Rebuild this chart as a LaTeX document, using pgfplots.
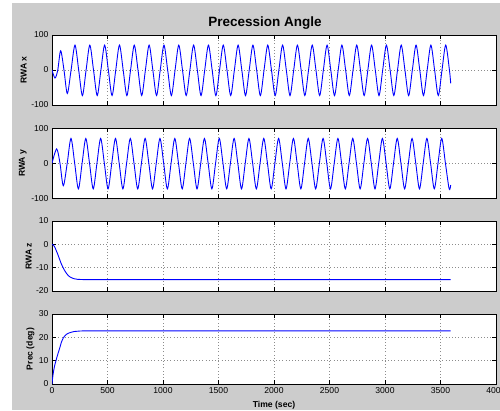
\documentclass[border=0pt]{standalone}
\usepackage{fontspec}
\setmainfont{Liberation Sans}
\usepackage{pgfplots}
\pgfplotsset{compat=1.18}
\definecolor{figgray}{RGB}{204,204,204}

\pgfplotsset{
  matpanel/.style={
    scale only axis,
    width=444pt, height=70pt,
    xmin=0, xmax=4000,
    xtick={0,500,...,4000},
    tick align=inside,
    tick pos=both,
    major tick length=4pt,
    axis line style={black, line width=0.8pt},
    tick style={black, line width=0.6pt},
    axis background/.style={fill=white},
    grid=major,
    major grid style={black!45, line width=0.5pt, dash pattern=on 0.7pt off 2.5pt},
    /pgf/number format/assume math mode=true,
    /pgf/number format/1000 sep={},
    tick label style={font=\fontsize{8.6}{10}\selectfont},
    ylabel style={font=\bfseries\fontsize{8.6}{10}\selectfont, inner sep=1pt},
    anchor=north west,
  },
  matline/.style={blue, line width=0.9pt, mark=none},
}

\begin{document}
\begin{tikzpicture}
\fill[figgray] (12.3pt,0pt) rectangle (500pt,406.7pt);
\path[use as bounding box] (0pt,0pt) rectangle (500pt,410pt);

% RWA x
\begin{axis}[matpanel, at={(52pt,375pt)},
  ymin=-100, ymax=100, ytick={-100,0,100},
  xticklabels={},
  ylabel={RWA x},
  title={Precession Angle},
  title style={font=\bfseries\fontsize{13.5}{15}\selectfont, at={(0.5,1)}, anchor=base, yshift=2.7pt, xshift=-9pt}]
\addplot[matline, smooth] coordinates {
(0,0) (27,-23) (52,0) (78,55) (108,0) (138,-67) (172,0)
(207.0,71) (240.4,0) (273.8,-73) (307.2,0)
(340.6,71) (374.0,0) (407.4,-73) (440.8,0)
(474.2,71) (507.6,0) (541.0,-73) (574.4,0)
(607.8,71) (641.2,0) (674.6,-73) (708.0,0)
(741.4,71) (774.8,0) (808.2,-73) (841.6,0)
(875.0,71) (908.4,0) (941.8,-73) (975.2,0)
(1008.6,71) (1042.0,0) (1075.4,-73) (1108.8,0)
(1142.2,71) (1175.6,0) (1209.0,-73) (1242.4,0)
(1275.8,71) (1309.2,0) (1342.6,-73) (1376.0,0)
(1409.4,71) (1442.8,0) (1476.2,-73) (1509.6,0)
(1543.0,71) (1576.4,0) (1609.8,-73) (1643.2,0)
(1676.6,71) (1710.0,0) (1743.4,-73) (1776.8,0)
(1810.2,71) (1843.6,0) (1877.0,-73) (1910.4,0)
(1943.8,71) (1977.2,0) (2010.6,-73) (2044.0,0)
(2077.4,71) (2110.8,0) (2144.2,-73) (2177.6,0)
(2211.0,71) (2244.4,0) (2277.8,-73) (2311.2,0)
(2344.6,71) (2378.0,0) (2411.4,-73) (2444.8,0)
(2478.2,71) (2511.6,0) (2545.0,-73) (2578.4,0)
(2611.8,71) (2645.2,0) (2678.6,-73) (2712.0,0)
(2745.4,71) (2778.8,0) (2812.2,-73) (2845.6,0)
(2879.0,71) (2912.4,0) (2945.8,-73) (2979.2,0)
(3012.6,71) (3046.0,0) (3079.4,-73) (3112.8,0)
(3146.2,71) (3179.6,0) (3213.0,-73) (3246.4,0)
(3279.8,71) (3313.2,0) (3346.6,-73) (3380.0,0)
(3413.4,71) (3446.8,0) (3480.2,-73) (3513.6,0)
(3547.0,71) (3580.4,0) (3592,-38)
};
\end{axis}

% RWA y
\begin{axis}[matpanel, at={(52pt,281.7pt)},
  ymin=-100, ymax=100, ytick={-100,0,100},
  xticklabels={},
  ylabel={RWA y}]
\addplot[matline, smooth] coordinates {
(0,0) (42,41) (72,0) (102,-64) (137,0)
(171.0,71) (204.4,0) (237.8,-73) (271.2,0)
(304.6,71) (338.0,0) (371.4,-73) (404.8,0)
(438.2,71) (471.6,0) (505.0,-73) (538.4,0)
(571.8,71) (605.2,0) (638.6,-73) (672.0,0)
(705.4,71) (738.8,0) (772.2,-73) (805.6,0)
(839.0,71) (872.4,0) (905.8,-73) (939.2,0)
(972.6,71) (1006.0,0) (1039.4,-73) (1072.8,0)
(1106.2,71) (1139.6,0) (1173.0,-73) (1206.4,0)
(1239.8,71) (1273.2,0) (1306.6,-73) (1340.0,0)
(1373.4,71) (1406.8,0) (1440.2,-73) (1473.6,0)
(1507.0,71) (1540.4,0) (1573.8,-73) (1607.2,0)
(1640.6,71) (1674.0,0) (1707.4,-73) (1740.8,0)
(1774.2,71) (1807.6,0) (1841.0,-73) (1874.4,0)
(1907.8,71) (1941.2,0) (1974.6,-73) (2008.0,0)
(2041.4,71) (2074.8,0) (2108.2,-73) (2141.6,0)
(2175.0,71) (2208.4,0) (2241.8,-73) (2275.2,0)
(2308.6,71) (2342.0,0) (2375.4,-73) (2408.8,0)
(2442.2,71) (2475.6,0) (2509.0,-73) (2542.4,0)
(2575.8,71) (2609.2,0) (2642.6,-73) (2676.0,0)
(2709.4,71) (2742.8,0) (2776.2,-73) (2809.6,0)
(2843.0,71) (2876.4,0) (2909.8,-73) (2943.2,0)
(2976.6,71) (3010.0,0) (3043.4,-73) (3076.8,0)
(3110.2,71) (3143.6,0) (3177.0,-73) (3210.4,0)
(3243.8,71) (3277.2,0) (3310.6,-73) (3344.0,0)
(3377.4,71) (3410.8,0) (3444.2,-73) (3477.6,0)
(3511.0,71) (3544.4,0) (3577.8,-73) (3592,-62)
};
\end{axis}

% RWA z
\begin{axis}[matpanel, at={(52pt,189pt)},
  ymin=-20, ymax=10, ytick={-20,-10,0,10},
  xticklabels={},
  ylabel={RWA z}]
\addplot[matline] coordinates {
(0,0) (10,-0.2) (20,-0.8) (30,-1.7) (40,-2.9) (50,-4.0) (60,-5.3)
(70,-6.6) (80,-7.9) (90,-9.0) (100,-10.0) (110,-10.9) (120,-11.7)
(130,-12.4) (140,-13.0) (150,-13.5) (160,-13.9) (180,-14.4)
(200,-14.75) (230,-15.0) (280,-15.1) (3592,-15.1)
};
\end{axis}

% Prec
\begin{axis}[matpanel, at={(52pt,96pt)},
  ymin=0, ymax=30, ytick={0,10,20,30},
  ylabel={Prec (deg)},
  xlabel={Time (sec)},
  xlabel style={font=\bfseries\fontsize{8.6}{10}\selectfont, at={(axis description cs:0.5,0)}, anchor=base, yshift=-23.5pt}]
\addplot[matline] coordinates {
(0,0) (5,2.3) (10,4.2) (15,5.7) (20,7.0) (28,8.7) (36,10) (45,11.6)
(55,13.2) (65,14.7) (75,16.3) (85,18.0) (100,19.6) (115,20.6)
(130,21.3) (150,21.8) (175,22.2) (200,22.5) (250,22.7) (300,22.8)
(3592,22.8)
};
\end{axis}
\end{tikzpicture}
\end{document}
